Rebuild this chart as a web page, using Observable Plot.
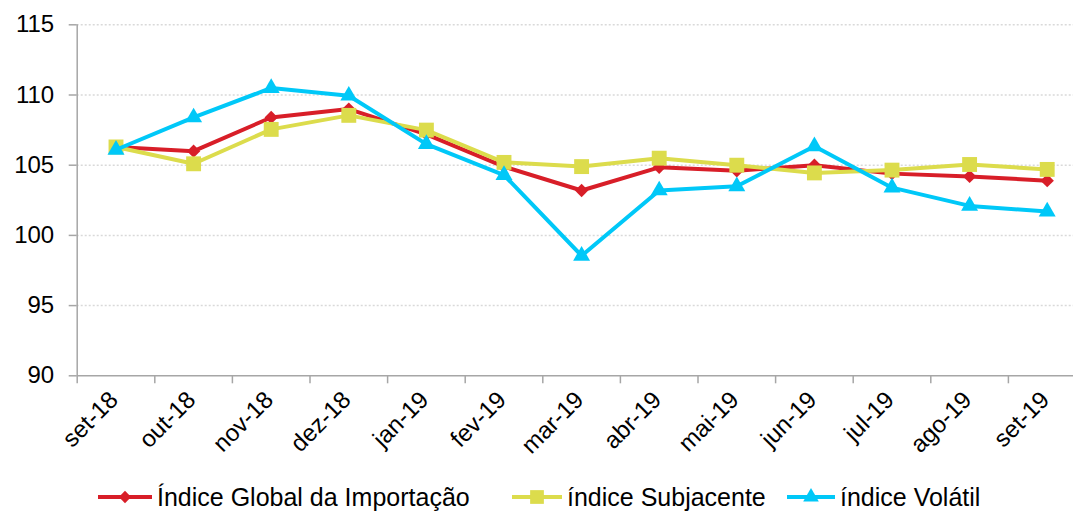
<!DOCTYPE html>
<html><head><meta charset="utf-8">
<script src="https://cdn.jsdelivr.net/npm/d3@7"></script>
<script src="https://cdn.jsdelivr.net/npm/@observablehq/plot@0.6"></script>
<style>
body{margin:0;background:#fff;font-family:"Liberation Sans",Arial,sans-serif;overflow:hidden;width:1073px;height:512px}
#chart svg{overflow:visible;display:block}
#legend{position:relative;height:30px;font-size:25px;color:#000}
.item{position:absolute;top:0;height:30px;display:flex;align-items:center;white-space:nowrap}
.item svg{margin-right:5px}
</style></head><body><div id="chart"></div><div id="legend"></div>
<script>
const months = ["set-18","out-18","nov-18","dez-18","jan-19","fev-19","mar-19","abr-19","mai-19","jun-19","jul-19","ago-19","set-19"];
const globalIdx = [106.3,106.0,108.4,109.0,107.2,104.9,103.2,104.85,104.6,105.0,104.4,104.2,103.9];
const subjacente = [106.3,105.1,107.55,108.55,107.5,105.2,104.9,105.5,105.0,104.45,104.65,105.05,104.7];
const volatil = [106.1,108.4,110.5,109.95,106.5,104.3,98.55,103.2,103.5,106.35,103.4,102.1,101.7];
const seriesNames = ["Índice Global da Importação","índice Subjacente","índice Volátil"];
const colors = ["#d81e28","#dcdc4c","#00c8f8"];
const symbols = ["diamond2","square","triangle"];
const radii = [6.0,8.4,6.3];
const yTicks = [90,95,100,105,110,115];

const allSeries = [globalIdx, subjacente, volatil];
const rows = [];
allSeries.forEach((vals, s) => vals.forEach((v, i) => rows.push({i, v, s: seriesNames[s]})));

const font = '"Liberation Sans", Arial, sans-serif';
const axisColor = "#a6a6a6";
const n = months.length;

const seriesMarks = [];
seriesNames.forEach((name, s) => {
  const d = rows.filter(r => r.s === name);
  seriesMarks.push(Plot.line(d, {x: "i", y: "v", stroke: colors[s], strokeWidth: 4, strokeLinejoin: "round"}));
  seriesMarks.push(Plot.dot(d, {x: "i", y: "v", fill: colors[s], stroke: "none", symbol: symbols[s], r: radii[s]}));
});

const plot = Plot.plot({
  width: 1073, height: 482,
  marginLeft: 76.7, marginRight: 0, marginTop: 24.3, marginBottom: 106.7,
  x: {type: "linear", domain: [-0.5, n - 0.5], range: [76.7, 1085.5]},
  y: {domain: [yTicks[0], yTicks[yTicks.length - 1]], range: [375.3, 24.3]},
  style: {fontFamily: font, fontSize: "24px", color: "#000", background: "#fff"},
  marks: [
    Plot.ruleY(yTicks.slice(1), {stroke: "#d9d9d9", strokeWidth: 1.5, strokeDasharray: "2,2"}),
    Plot.axisY({ticks: yTicks, tickSize: 8, tickPadding: 15, stroke: axisColor, strokeWidth: 1.5, strokeOpacity: 1, fill: "#000", fontSize: 24, label: null, tickFormat: d => String(d)}),
    Plot.axisX({ticks: d3.range(n + 1).map(k => k - 0.5), tickSize: 8, tickFormat: () => "", stroke: axisColor, strokeWidth: 1.5, strokeOpacity: 1, label: null}),
    Plot.axisX({ticks: d3.range(n), tickSize: 0, tickPadding: 20, dx: -2, tickFormat: i => months[i], tickRotate: -45, fill: "#000", fontSize: 24, label: null}),
    Plot.ruleX([-0.5], {y1: yTicks[0], y2: yTicks[yTicks.length - 1], stroke: axisColor, strokeWidth: 1.5}),
    Plot.ruleY([yTicks[0]], {stroke: axisColor, strokeWidth: 1.5}),
    ...seriesMarks
  ]
});
document.getElementById("chart").appendChild(plot);

const legend = document.getElementById("legend");
const lefts = [98, 512, 787];
const swatchW = [54, 50, 48];
seriesNames.forEach((name, s) => {
  const item = document.createElement("div");
  item.className = "item";
  item.style.left = lefts[s] + "px";
  const sym = d3.symbol(d3["symbol" + (symbols[s] === "diamond2" ? "Diamond2" : symbols[s] === "square" ? "Square" : "Triangle")], Math.PI * radii[s] * radii[s] * 0.85)();
  const w = swatchW[s];
  item.innerHTML = `<svg width="${w}" height="20" viewBox="0 0 ${w} 20"><line x1="0" y1="10" x2="${w}" y2="10" stroke="${colors[s]}" stroke-width="4"/><path transform="translate(${w/2},10)" d="${sym}" fill="${colors[s]}"/></svg><span>${name}</span>`;
  legend.appendChild(item);
});
</script>
</body></html>
